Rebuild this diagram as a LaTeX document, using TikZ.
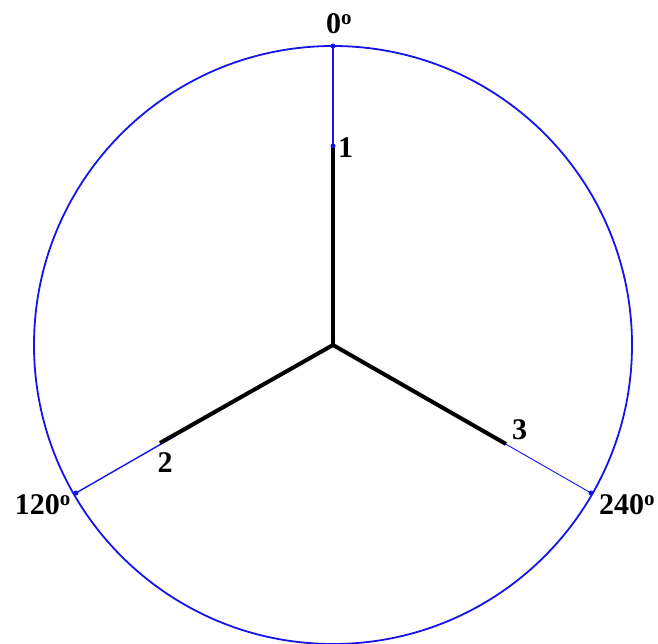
\documentclass[tikz,border=0pt]{standalone}
\usepackage{fontspec}
\setmainfont{Liberation Serif}
\usetikzlibrary{positioning}
\definecolor{rim}{RGB}{20,20,235}

\begin{document}
\begin{tikzpicture}[x=1pt, y=-1pt,
    phase/.style={line width=4pt, black},
    spoke/.style={line width=1.4pt, rim},
    dot/.style={circle, fill=rim, inner sep=0pt, minimum size=5pt},
    lbl/.style={font=\bfseries\fontsize{30}{30}\selectfont, inner sep=0pt}]

    \useasboundingbox (0,0) rectangle (658,644);

    % centre, inner ends and rim points
    \coordinate (o)    at (333,345);
    \coordinate (p1)   at (333,146);
    \coordinate (p2)   at (160,443);
    \coordinate (p3)   at (506,444);
    \coordinate (a0)   at (333,46);
    \coordinate (a120) at (76,493);
    \coordinate (a240) at (591,493);

    % circle
    \draw[rim, line width=1.8pt] (o) circle (299);

    % blue spokes out to the rim
    \draw[spoke] (o) -- (a0);
    \draw[spoke] (o) -- (a120);
    \draw[spoke, line width=0.9pt] (o) -- (a240);

    % black phase lines
    \draw[phase] (o) -- (p1);
    \draw[phase] (o) -- (p2);
    \draw[phase] (o) -- (p3);

    \node[dot] (d0)   at (a0)   {};
    \node[dot] (d120) at (a120) {};
    \node[dot] (d240) at (a240) {};
    \node[dot] (d1)   at (p1)   {};

    % labels
    \node[lbl, right=5pt of p1, yshift=-2pt] (l1) {1};
    \node[lbl, below=9pt of p2, xshift=5pt] (l2) {2};
    \node[lbl, above right=4pt and 6pt of p3] (l3) {3};
    \node[lbl, above=12pt of a0, xshift=6pt] (l0) {0\textsuperscript{o}};
    \node[lbl, below left=1pt and 5pt of a120] (l120) {120\textsuperscript{o}};
    \node[lbl, below right=1pt and 8pt of a240] (l240) {240\textsuperscript{o}};
  \end{tikzpicture}
\end{document}
